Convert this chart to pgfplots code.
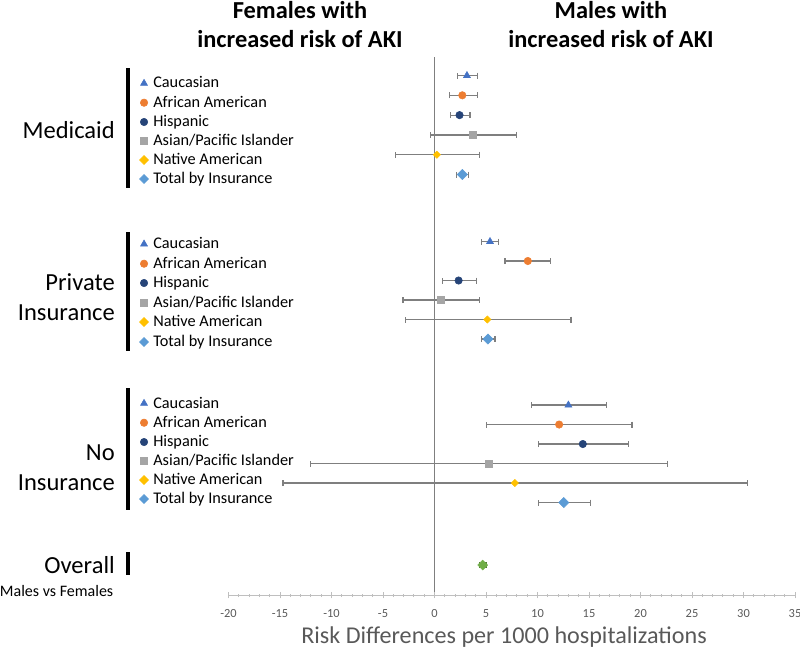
\documentclass[border=0pt]{standalone}
\usepackage{pgfplots}
\pgfplotsset{compat=1.18}
\usepackage{pgfplotstable}
\usepackage{fontspec}
\setmainfont{Carlito}
\definecolor{cauc}{HTML}{4472C4}
\definecolor{afam}{HTML}{ED7D31}
\definecolor{hisp}{HTML}{264478}
\definecolor{asian}{HTML}{A5A5A5}
\definecolor{native}{HTML}{FFC000}
\definecolor{total}{HTML}{5B9BD5}
\definecolor{overall}{HTML}{70AD47}
\definecolor{errgray}{HTML}{7F7F7F}
\definecolor{axgray}{HTML}{BFBFBF}
\definecolor{txtgray}{HTML}{595959}

% x  y(row)  lower  upper
\pgfplotstableread{
x y lo hi
3.15 75.5 2.27 4.16
5.39 241.5 4.55 6.23
13.0 405 9.4 16.7
}\tcauc
\pgfplotstableread{
x y lo hi
2.7 95.3 1.46 4.16
9.06 261 6.85 11.27
12.1 424.5 5.07 19.17
}\tafam
\pgfplotstableread{
x y lo hi
2.43 115.1 1.53 3.44
2.34 280.5 0.78 4.06
14.4 444 10.1 18.8
}\thisp
\pgfplotstableread{
x y lo hi
3.73 134.9 -0.42 7.95
0.62 300 -3.05 4.35
5.3 463.5 -12.05 22.6
}\tasian
\pgfplotstableread{
x y lo hi
0.23 154.7 -3.8 4.35
5.13 319.5 -2.82 13.25
7.8 483 -14.7 30.4
}\tnative
\pgfplotstableread{
x y lo hi
2.7 174.5 2.14 3.31
5.19 339 4.55 5.88
12.55 502.5 10.07 15.17
}\ttotal
\pgfplotstableread{
x y lo hi
4.68 565 4.4 5.0
}\toverall
% legend key positions (x at left margin, rows)
\pgfplotstableread{
x y
-28.2 83.3
-28.2 244
-28.2 403.3
}\kcauc
\pgfplotstableread{
x y
-28.2 102.7
-28.2 263.7
-28.2 422.7
}\kafam
\pgfplotstableread{
x y
-28.2 122
-28.2 283
-28.2 442
}\khisp
\pgfplotstableread{
x y
-28.2 141
-28.2 303
-28.2 461
}\kasian
\pgfplotstableread{
x y
-28.2 160
-28.2 322
-28.2 480
}\knative
\pgfplotstableread{
x y
-28.2 179
-28.2 342
-28.2 499
}\ktotal

\pgfplotsset{
  errplot/.style={only marks,
    error bars/x dir=both, error bars/x explicit,
    error bars/error mark=|,
    error bars/error bar style={errgray, line width=0.9pt},
    error bars/error mark options={errgray, mark size=2.25pt, line width=0.9pt}},
}

\begin{document}
\begin{tikzpicture}
\path[use as bounding box] (0,0) rectangle (600pt,-486pt);
\begin{axis}[
  at={(171.375pt,-446.5pt)}, anchor=south west,
  scale only axis, width=424.875pt, height=403.75pt,
  xmin=-20, xmax=35, ymin=57, ymax=595.3, y dir=reverse,
  axis x line*=bottom, axis y line=none,
  x axis line style={axgray, line width=0.75pt, -},
  xtick={-20,-15,...,35}, minor x tick num=4,
  tick align=center,
  major tick length=4.5pt, minor tick length=2.5pt,
  every tick/.style={axgray, line width=0.75pt},
  xticklabel style={font=\fontsize{9.3pt}{11pt}\selectfont, text=txtgray},
  xticklabel shift=5pt,
  /pgf/number format/assume math mode=true,
  clip=false,
]
\addplot[errgray, line width=1.2pt] coordinates {(0,57) (0,592)};

\addplot[errplot, mark=triangle*, mark size=3pt, mark options={draw=cauc, fill=cauc}]
  table[x=x, y=y, x error plus expr=\thisrow{hi}-\thisrow{x}, x error minus expr=\thisrow{x}-\thisrow{lo}] {\tcauc};
\addplot[errplot, mark=*, mark size=2.8pt, mark options={draw=afam, fill=afam}]
  table[x=x, y=y, x error plus expr=\thisrow{hi}-\thisrow{x}, x error minus expr=\thisrow{x}-\thisrow{lo}] {\tafam};
\addplot[errplot, mark=*, mark size=2.8pt, mark options={draw=hisp, fill=hisp}]
  table[x=x, y=y, x error plus expr=\thisrow{hi}-\thisrow{x}, x error minus expr=\thisrow{x}-\thisrow{lo}] {\thisp};
\addplot[errplot, mark=square*, mark size=2.7pt, mark options={draw=asian, fill=asian}]
  table[x=x, y=y, x error plus expr=\thisrow{hi}-\thisrow{x}, x error minus expr=\thisrow{x}-\thisrow{lo}] {\tasian};
\addplot[errplot, mark=square*, mark size=1.9pt, mark options={draw=native, fill=native, rotate=45}]
  table[x=x, y=y, x error plus expr=\thisrow{hi}-\thisrow{x}, x error minus expr=\thisrow{x}-\thisrow{lo}] {\tnative};
\addplot[errplot, mark=square*, mark size=2.7pt, mark options={draw=total, fill=total, rotate=45}]
  table[x=x, y=y, x error plus expr=\thisrow{hi}-\thisrow{x}, x error minus expr=\thisrow{x}-\thisrow{lo}] {\ttotal};
\addplot[only marks, mark=square*, mark size=2.6pt, mark options={draw=overall, fill=overall, rotate=45},
  error bars/x dir=both, error bars/x explicit, error bars/error mark=|,
  error bars/error bar style={overall!70!black, line width=0.9pt},
  error bars/error mark options={overall!70!black, mark size=2.25pt, line width=0.9pt}]
  table[x=x, y=y, x error plus expr=\thisrow{hi}-\thisrow{x}, x error minus expr=\thisrow{x}-\thisrow{lo}] {\toverall};

% legend keys
\addplot[only marks, mark=triangle*, mark size=3pt, mark options={draw=cauc, fill=cauc}] table[x=x, y=y] {\kcauc};
\addplot[only marks, mark=*, mark size=2.8pt, mark options={draw=afam, fill=afam}] table[x=x, y=y] {\kafam};
\addplot[only marks, mark=*, mark size=2.8pt, mark options={draw=hisp, fill=hisp}] table[x=x, y=y] {\khisp};
\addplot[only marks, mark=square*, mark size=2.7pt, mark options={draw=asian, fill=asian}] table[x=x, y=y] {\kasian};
\addplot[only marks, mark=square*, mark size=2.4pt, mark options={draw=native, fill=native, rotate=45}] table[x=x, y=y] {\knative};
\addplot[only marks, mark=square*, mark size=2.4pt, mark options={draw=total, fill=total, rotate=45}] table[x=x, y=y] {\ktotal};
\end{axis}

\begin{scope}[x=0.75pt, y=-0.75pt]
% titles
\node[align=center, font=\fontsize{18.3pt}{21.75pt}\selectfont\bfseries] at (300,24.5) {Females with\\increased risk of AKI};
\node[align=center, font=\fontsize{18.3pt}{21.75pt}\selectfont\bfseries] at (611,24.5) {Males with\\increased risk of AKI};
% group labels
\node[anchor=east, align=right, font=\fontsize{18.4pt}{22.5pt}\selectfont, inner sep=0pt] at (115,130) {Medicaid};
\node[anchor=east, align=right, font=\fontsize{18.4pt}{22.5pt}\selectfont, inner sep=0pt] at (115,297) {Private\\Insurance};
\node[anchor=east, align=right, font=\fontsize{18.4pt}{22.5pt}\selectfont, inner sep=0pt] at (115,467.5) {No\\Insurance};
\node[anchor=east, align=right, font=\fontsize{18.4pt}{22.5pt}\selectfont, inner sep=0pt] at (115,565) {Overall};
\node[anchor=east, font=\fontsize{12pt}{13pt}\selectfont, inner sep=0pt] at (113.5,591) {Males vs Females};
% black bars
\fill[black] (125.5,68) rectangle (129.5,188);
\fill[black] (125.5,232) rectangle (129.5,351);
\fill[black] (125.5,388) rectangle (129.5,510);
\fill[black] (125.5,552) rectangle (129.5,575);
% legend texts
\foreach \y/\t in {84.5/Caucasian, 104/African American, 123.3/Hispanic, 142.3/Asian\slash Pacific Islander, 161.3/Native American, 180.3/Total by Insurance,
                   245.3/Caucasian, 265/African American, 284.3/Hispanic, 304.3/Asian\slash Pacific Islander, 323.3/Native American, 343.3/Total by Insurance,
                   404.6/Caucasian, 424/African American, 443.3/Hispanic, 462.3/Asian\slash Pacific Islander, 481.3/Native American, 500.3/Total by Insurance}
  \node[anchor=west, inner sep=0pt, font=\fontsize{12.2pt}{13pt}\selectfont] at (153,\y) {\strut\t};
% axis title
\node[font=\fontsize{18.1pt}{20pt}\selectfont, text=txtgray] at (504,637) {Risk Differences per 1000 hospitalizations};
\end{scope}
\end{tikzpicture}
\end{document}
